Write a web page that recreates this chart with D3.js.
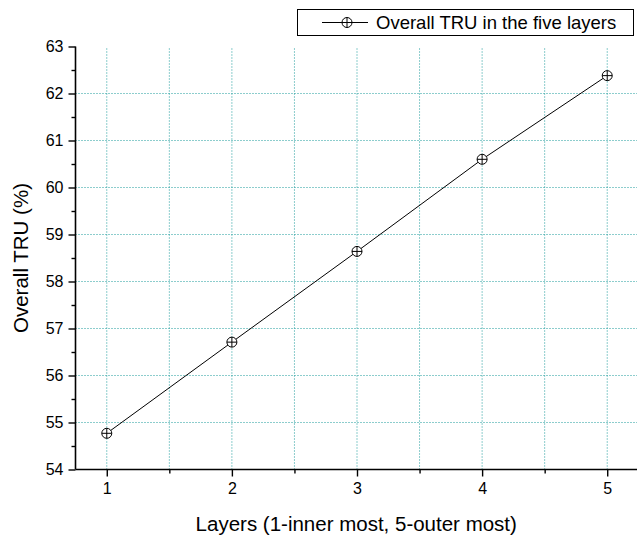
<!DOCTYPE html>
<html>
<head>
<meta charset="utf-8">
<script src="https://cdn.jsdelivr.net/npm/d3@7"></script>
<style>
  body { margin: 0; background: #fff; }
  text { font-family: "Liberation Sans", Arial, sans-serif; fill: #000; }
</style>
</head>
<body>
<div id="chart"></div>
<script>
// data
var layers = [1, 2, 3, 4, 5];
var tru = [54.77, 56.71, 58.64, 60.6, 62.38];
var yTicks = [54, 55, 56, 57, 58, 59, 60, 61, 62, 63];
var seriesName = 'Overall TRU in the five layers';

var width = 637, height = 537;
var margin = { left: 75.5, top: 46.5, right: -1.5, bottom: 67.5 };

var svg = d3.select('#chart').append('svg')
  .attr('width', width)
  .attr('height', height);

var x = d3.scaleLinear().domain([0.75, 5.25]).range([margin.left, width - margin.right]);
var y = d3.scaleLinear().domain([54, 63]).range([height - margin.bottom, margin.top]);

var gridColor = '#1a9a9a';

// vertical grid every half step
var xGrid = d3.range(1, 5.01, 0.5);
svg.append('g').selectAll('line').data(xGrid).enter().append('line')
  .attr('x1', function (d) { return x(d); })
  .attr('x2', function (d) { return x(d); })
  .attr('y1', y(63) + 2)
  .attr('y2', y(54))
  .attr('stroke', gridColor)
  .attr('stroke-width', 1)
  .attr('stroke-dasharray', '1,2');

// horizontal grid at integers (not on the ends)
svg.append('g').selectAll('line').data(yTicks.slice(1, -1)).enter().append('line')
  .attr('x1', x(0.75))
  .attr('x2', width)
  .attr('y1', function (d) { return y(d); })
  .attr('y2', function (d) { return y(d); })
  .attr('stroke', gridColor)
  .attr('stroke-width', 1)
  .attr('stroke-dasharray', '1,2');

// axes
var xAxis = svg.append('g')
  .attr('transform', 'translate(0,' + y(54) + ')')
  .call(d3.axisBottom(x).tickValues(layers).tickSize(7).tickPadding(6).tickFormat(d3.format('d')));
svg.append('g')
  .attr('transform', 'translate(0,' + y(54) + ')')
  .call(d3.axisBottom(x).tickValues([1.5, 2.5, 3.5, 4.5]).tickSize(4).tickFormat(''))
  .select('.domain').remove();

var yAxis = svg.append('g')
  .attr('transform', 'translate(' + x(0.75) + ',0)')
  .call(d3.axisLeft(y).tickValues(yTicks).tickSize(7).tickPadding(5).tickFormat(d3.format('d')));
svg.append('g')
  .attr('transform', 'translate(' + x(0.75) + ',0)')
  .call(d3.axisLeft(y).tickValues(d3.range(54.5, 63, 1)).tickSize(4).tickFormat(''))
  .select('.domain').remove();

svg.selectAll('.domain').attr('stroke-width', 1.6).attr('stroke', '#000');
svg.selectAll('.tick line').attr('stroke-width', 1.4).attr('stroke', '#000');
svg.selectAll('.tick text').style('font-size', '16px').attr('fill', '#000');
xAxis.select('.domain').attr('d', 'M' + x(0.75) + ',0H' + width);
yAxis.select('.domain').attr('d', 'M0,' + y(63) + 'V' + y(54));

// line + markers
var pts = layers.map(function (d, i) { return [d, tru[i]]; });
svg.append('path')
  .datum(pts)
  .attr('fill', 'none')
  .attr('stroke', '#000')
  .attr('stroke-width', 1)
  .attr('d', d3.line().x(function (d) { return x(d[0]); }).y(function (d) { return y(d[1]); }));

function marker(g, r) {
  g.append('circle').attr('r', r).attr('fill', '#fff').attr('stroke', '#000').attr('stroke-width', 1);
  g.append('line').attr('x1', -r).attr('x2', r).attr('stroke', '#000').attr('stroke-width', 1);
  g.append('line').attr('y1', -r).attr('y2', r).attr('stroke', '#000').attr('stroke-width', 1);
}

svg.append('g').selectAll('g').data(pts).enter().append('g')
  .attr('transform', function (d) { return 'translate(' + x(d[0]) + ',' + y(d[1]) + ')'; })
  .each(function () { marker(d3.select(this), 5); });

// axis titles
svg.append('text')
  .attr('x', (x(0.75) + width) / 2)
  .attr('y', 531)
  .attr('text-anchor', 'middle')
  .style('font-size', '20.5px')
  .text('Layers (1-inner most, 5-outer most)');

svg.append('text')
  .attr('transform', 'translate(28,' + y(58.5) + ') rotate(-90)')
  .attr('text-anchor', 'middle')
  .style('font-size', '20.5px')
  .text('Overall TRU (%)');

// legend
var leg = svg.append('g');
leg.append('rect')
  .attr('x', 297.5).attr('y', 9.5).attr('width', 336).attr('height', 26)
  .attr('fill', '#fff').attr('stroke', '#000').attr('stroke-width', 1);
leg.append('line')
  .attr('x1', 322).attr('x2', 368).attr('y1', 22.5).attr('y2', 22.5)
  .attr('stroke', '#000').attr('stroke-width', 1);
marker(leg.append('g').attr('transform', 'translate(347,22.5)'), 5);
leg.append('text')
  .attr('x', 376).attr('y', 28.5)
  .style('font-size', '18.5px')
  .text(seriesName);
</script>
</body>
</html>
